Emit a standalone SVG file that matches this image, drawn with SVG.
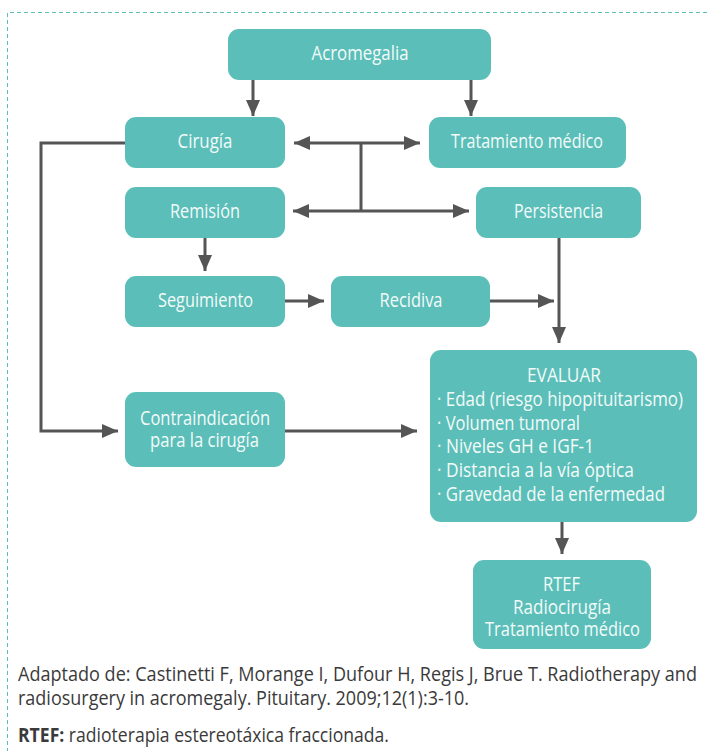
<svg xmlns="http://www.w3.org/2000/svg" width="707" height="751" viewBox="0 0 707 751">
  <style>
    .box { fill: #5cbeb8; }
    .lbl { font-family: "Open Sans", "Liberation Sans", sans-serif; font-size: 19.5px; fill: #f2fbfa; }
    .mid { text-anchor: middle; }
    .wire { fill: none; stroke: #555555; stroke-width: 3; }
    .note { font-family: "Open Sans", "Liberation Sans", sans-serif; font-size: 19.5px; fill: #3a3a3a; }
    .frame { fill: none; stroke: #5cbeb8; stroke-width: 1; stroke-dasharray: 4 3; }
  </style>
  <defs>
    <marker id="arrow" markerUnits="userSpaceOnUse" markerWidth="16" markerHeight="14" refX="16" refY="7" orient="auto-start-reverse">
      <path d="M0,0 L16,7 L0,14 z" fill="#555555"/>
    </marker>
  </defs>

  <rect width="707" height="751" fill="#ffffff"/>

  <!-- dashed frame (top and left edges) -->
  <path class="frame" d="M707,12.5 H7.5 V751"/>

  <!-- connectors -->
  <g id="connectors">
    <path class="wire" d="M253,80 V116" marker-end="url(#arrow)"/>
    <path class="wire" d="M471,80 V116" marker-end="url(#arrow)"/>
    <path class="wire" d="M294,143 H420" marker-start="url(#arrow)" marker-end="url(#arrow)"/>
    <path class="wire" d="M361,143 V211"/>
    <path class="wire" d="M293,211 H469" marker-start="url(#arrow)" marker-end="url(#arrow)"/>
    <path class="wire" d="M125,143 H41 V431 H118" marker-end="url(#arrow)"/>
    <path class="wire" d="M205,238 V271" marker-end="url(#arrow)"/>
    <path class="wire" d="M285,301 H324" marker-end="url(#arrow)"/>
    <path class="wire" d="M490,301 H554" marker-end="url(#arrow)"/>
    <path class="wire" d="M559,238 V343" marker-end="url(#arrow)"/>
    <path class="wire" d="M285,431 H417" marker-end="url(#arrow)"/>
    <path class="wire" d="M562,522 V554" marker-end="url(#arrow)"/>
  </g>

  <!-- nodes -->
  <g id="acromegalia">
    <rect class="box" x="228" y="29" width="263" height="51" rx="11"/>
    <text class="lbl mid" x="360" y="60" textLength="97" lengthAdjust="spacingAndGlyphs">Acromegalia</text>
  </g>
  <g id="cirugia">
    <rect class="box" x="125" y="117" width="160" height="51" rx="11"/>
    <text class="lbl mid" x="205" y="148" textLength="55" lengthAdjust="spacingAndGlyphs">Cirugía</text>
  </g>
  <g id="tratamiento">
    <rect class="box" x="429" y="117" width="197" height="51" rx="11"/>
    <text class="lbl mid" x="527" y="148" textLength="152" lengthAdjust="spacingAndGlyphs">Tratamiento médico</text>
  </g>
  <g id="remision">
    <rect class="box" x="125" y="187" width="160" height="51" rx="11"/>
    <text class="lbl mid" x="205" y="218" textLength="70" lengthAdjust="spacingAndGlyphs">Remisión</text>
  </g>
  <g id="persistencia">
    <rect class="box" x="476" y="187" width="165" height="51" rx="11"/>
    <text class="lbl mid" x="558.5" y="218" textLength="89" lengthAdjust="spacingAndGlyphs">Persistencia</text>
  </g>
  <g id="seguimiento">
    <rect class="box" x="125" y="276" width="160" height="51" rx="11"/>
    <text class="lbl mid" x="205.5" y="307" textLength="95" lengthAdjust="spacingAndGlyphs">Seguimiento</text>
  </g>
  <g id="recidiva">
    <rect class="box" x="331" y="276" width="159" height="51" rx="11"/>
    <text class="lbl mid" x="411" y="307" textLength="63" lengthAdjust="spacingAndGlyphs">Recidiva</text>
  </g>
  <g id="contraindicacion">
    <rect class="box" x="125" y="392" width="160" height="75" rx="11"/>
    <text class="lbl mid" x="205" y="425" textLength="130" lengthAdjust="spacingAndGlyphs">Contraindicación</text>
    <text class="lbl mid" x="204.5" y="447" textLength="109" lengthAdjust="spacingAndGlyphs">para la cirugía</text>
  </g>
  <g id="evaluar">
    <rect class="box" x="430" y="350" width="267" height="172" rx="11"/>
    <text class="lbl mid" x="564" y="382" textLength="74" lengthAdjust="spacingAndGlyphs">EVALUAR</text>
    <text class="lbl" x="437" y="406" textLength="246" lengthAdjust="spacingAndGlyphs">· Edad (riesgo hipopituitarismo)</text>
    <text class="lbl" x="437" y="430" textLength="143" lengthAdjust="spacingAndGlyphs">· Volumen tumoral</text>
    <text class="lbl" x="437" y="453" textLength="157" lengthAdjust="spacingAndGlyphs">· Niveles GH e IGF-1</text>
    <text class="lbl" x="437" y="477" textLength="197" lengthAdjust="spacingAndGlyphs">· Distancia a la vía óptica</text>
    <text class="lbl" x="437" y="501" textLength="228" lengthAdjust="spacingAndGlyphs">· Gravedad de la enfermedad</text>
  </g>
  <g id="rtef">
    <rect class="box" x="473" y="560" width="178" height="89" rx="11"/>
    <text class="lbl mid" x="561.5" y="591" textLength="37" lengthAdjust="spacingAndGlyphs">RTEF</text>
    <text class="lbl mid" x="562" y="614" textLength="98" lengthAdjust="spacingAndGlyphs">Radiocirugía</text>
    <text class="lbl mid" x="562.5" y="636" textLength="155" lengthAdjust="spacingAndGlyphs">Tratamiento médico</text>
  </g>

  <!-- source note -->
  <g id="footnote">
    <text class="note" x="18" y="681" textLength="679" lengthAdjust="spacingAndGlyphs">Adaptado de: Castinetti F, Morange I, Dufour H, Regis J, Brue T. Radiotherapy and</text>
    <text class="note" x="18" y="705" textLength="451" lengthAdjust="spacingAndGlyphs">radiosurgery in acromegaly. Pituitary. 2009;12(1):3-10.</text>
    <text class="note" x="18" y="742" textLength="371" lengthAdjust="spacingAndGlyphs"><tspan font-weight="bold">RTEF:</tspan> radioterapia estereotáxica fraccionada.</text>
  </g>
</svg>
